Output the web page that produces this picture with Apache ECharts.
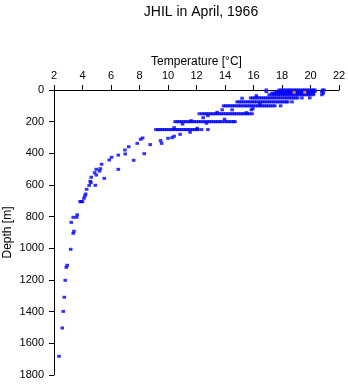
<!DOCTYPE html>
<html>
<head>
<meta charset="utf-8">
<script src="https://cdn.jsdelivr.net/npm/echarts@6/dist/echarts.min.js"></script>
<style>
html,body{margin:0;padding:0;background:#fff;}
#chart{width:348px;height:384px;}
</style>
</head>
<body>
<div id="chart"></div>
<script>
// Temperature ticks and depth ticks
const tempTicks = [2, 4, 6, 8, 10, 12, 14, 16, 18, 20, 22];
const depthTicks = [0, 200, 400, 600, 800, 1000, 1200, 1400, 1600, 1800];

// Temperatures observed at standard depths (m) across stations
const temps0 = [16.9, 17.8, 17.95, 18.1, 18.25, 18.4, 18.55, 18.7, 18.85, 19.0, 19.15, 19.3, 19.45, 19.6, 19.75, 19.9, 20.05, 20.2, 20.3, 20.85, 20.95];
const temps10 = [16.9, 17.6, 17.75, 17.9, 18.05, 18.2, 18.35, 18.5, 18.65, 18.8, 18.95, 19.1, 19.25, 19.4, 19.55, 19.7, 19.85, 20.0, 20.15, 20.3, 20.8];
const temps20 = [17.3, 17.45, 17.6, 17.75, 17.9, 18.05, 18.2, 18.35, 18.5, 18.65, 18.8, 18.95, 19.1, 19.25, 19.4, 19.55, 19.7, 19.85, 20.0, 20.2, 20.9];
const temps30 = [17.1, 17.3, 17.45, 17.6, 17.75, 17.9, 18.05, 18.2, 18.35, 18.5, 18.65, 18.8, 18.95, 19.1, 19.25, 19.4, 19.55, 19.7, 19.85, 20.0, 20.2, 20.8];
const temps50 = [15.8, 15.95, 16.1, 16.25, 16.4, 16.55, 16.7, 16.85, 17.0, 17.15, 17.3, 17.45, 17.6, 17.75, 17.9, 18.05, 18.2, 18.35, 18.5, 18.65, 18.8, 18.95, 19.1, 19.4, 19.95];
const temps75 = [14.85, 15.0, 15.15, 15.3, 15.45, 15.6, 15.75, 15.9, 16.05, 16.2, 16.35, 16.5, 16.65, 16.8, 16.95, 17.1, 17.25, 17.4, 17.55, 17.7, 17.85, 18.0, 18.15, 18.3, 18.4, 18.7];
const temps100 = [13.9, 14.05, 14.2, 14.35, 14.5, 14.65, 14.8, 14.95, 15.1, 15.25, 15.4, 15.55, 15.7, 15.85, 16.0, 16.15, 16.3, 16.45, 16.6, 16.75, 16.9, 17.05, 17.2, 17.35, 17.5, 17.9];
const temps125 = [13.8, 14.5, 15.85];
const temps150 = [12.2, 12.4, 12.55, 12.7, 12.85, 13.0, 13.15, 13.3, 13.45, 13.6, 13.75, 13.9, 14.05, 14.2, 14.35, 14.5, 14.65, 14.8, 14.95, 15.1, 15.25, 15.4, 15.55, 15.7, 15.9];
const temps200 = [10.5, 10.65, 10.8, 10.95, 11.1, 11.25, 11.4, 11.55, 11.7, 11.85, 12.0, 12.15, 12.3, 12.45, 12.6, 12.75, 12.9, 13.05, 13.2, 13.35, 13.5, 13.65, 13.8, 14.0, 14.15, 14.3, 14.45, 14.6, 14.7];
const temps250 = [9.15, 9.3, 9.45, 9.6, 9.75, 9.9, 10.05, 10.2, 10.35, 10.5, 10.65, 10.8, 10.95, 11.1, 11.25, 11.4, 11.55, 11.7, 11.85, 12.0, 12.1, 12.35, 12.8];

// Other observations [temperature, depth]
const otherObs = [
  [16.2, 36], [15.2, 52], [16.45, 90], [15.95, 118], [13.45, 141], [15.5, 143],
  [12.8, 162], [12.47, 175], [13.97, 185], [11.62, 194], [12.7, 210], [11.02, 215],
  [10.43, 238], [12.05, 242], [11.55, 267], [10.85, 280], [10.43, 292], [10.29, 301],
  [10.0, 305], [9.48, 320], [9.55, 337], [8.22, 303], [8.08, 311], [8.75, 345],
  [8.33, 402], [7.84, 337], [7.24, 358], [6.98, 379], [7.0, 404], [7.59, 444],
  [6.51, 411], [6.04, 425], [5.88, 442], [5.34, 469], [6.51, 501], [5.25, 497],
  [4.97, 501], [5.2, 512], [4.85, 522], [4.97, 537], [5.53, 558], [4.61, 551],
  [4.54, 577], [4.59, 585], [4.47, 602], [4.9, 602], [4.29, 627], [4.22, 657],
  [4.17, 669], [4.1, 684], [3.83, 705], [3.92, 705], [4.0, 705], [3.63, 788],
  [3.35, 804], [3.59, 804], [3.21, 836], [3.4, 892], [3.35, 905], [3.17, 1006],
  [2.93, 1107], [2.86, 1120], [2.79, 1202], [2.72, 1309], [2.65, 1398], [2.58, 1503],
  [2.35, 1682]
];

// Highlighted observations [temperature, depth]
const highlightObs = [[18.85, 15], [19.6, 15]];

const levelDepths = [0, 10, 20, 30, 50, 75, 100, 125, 150, 200, 250];
const levelTemps = [temps0, temps10, temps20, temps30, temps50, temps75, temps100, temps125, temps150, temps200, temps250];

const bluePts = [];
levelDepths.forEach((d, i) => levelTemps[i].forEach(t => bluePts.push([t, d])));
otherObs.forEach(p => bluePts.push(p));

const FONT = 'Liberation Sans';
const chart = echarts.init(document.getElementById('chart'), null, {renderer: 'canvas'});
chart.setOption({
  animation: false,
  backgroundColor: '#ffffff',
  title: {
    text: 'JHIL in April, 1966',
    left: 196,
    top: 0,
    textAlign: 'center',
    textStyle: {fontFamily: FONT, fontSize: 14, fontWeight: 'normal', color: '#000'}
  },
  grid: {left: 54, top: 90, right: 9, bottom: 9, containLabel: false, outerBoundsMode: 'none'},
  xAxis: {
    type: 'value',
    position: 'top',
    min: tempTicks[0],
    max: tempTicks[tempTicks.length - 1],
    interval: 2,
    name: 'Temperature [°C]',
    nameLocation: 'middle',
    nameGap: 22,
    nameMoveOverlap: false,
    nameTextStyle: {fontFamily: FONT, fontSize: 12, color: '#000'},
    axisLine: {show: true, lineStyle: {color: '#000', width: 1}},
    axisTick: {show: true, inside: false, length: 5, lineStyle: {color: '#000'}},
    axisLabel: {fontFamily: FONT, fontSize: 11, color: '#000', margin: 9, formatter: v => String(v)},
    splitLine: {show: false}
  },
  yAxis: {
    type: 'value',
    inverse: true,
    min: depthTicks[0],
    max: depthTicks[depthTicks.length - 1],
    interval: 200,
    name: 'Depth [m]',
    nameLocation: 'middle',
    nameGap: 40,
    nameMoveOverlap: false,
    nameTextStyle: {fontFamily: FONT, fontSize: 12, color: '#000'},
    axisLine: {show: true, lineStyle: {color: '#000', width: 1}},
    axisTick: {show: true, inside: false, length: 5, lineStyle: {color: '#000'}},
    axisLabel: {fontFamily: FONT, fontSize: 11, color: '#000', margin: 10, formatter: v => String(v)},
    splitLine: {show: false}
  },
  series: [
    {
      type: 'scatter',
      data: bluePts,
      symbol: 'rect',
      symbolSize: [3.6, 3],
      itemStyle: {color: '#0000ff'},
      silent: true
    },
    {
      type: 'scatter',
      data: highlightObs,
      symbol: 'rect',
      symbolSize: 3,
      itemStyle: {color: '#ffa500'},
      z: 3,
      silent: true
    }
  ]
});
</script>
</body>
</html>
